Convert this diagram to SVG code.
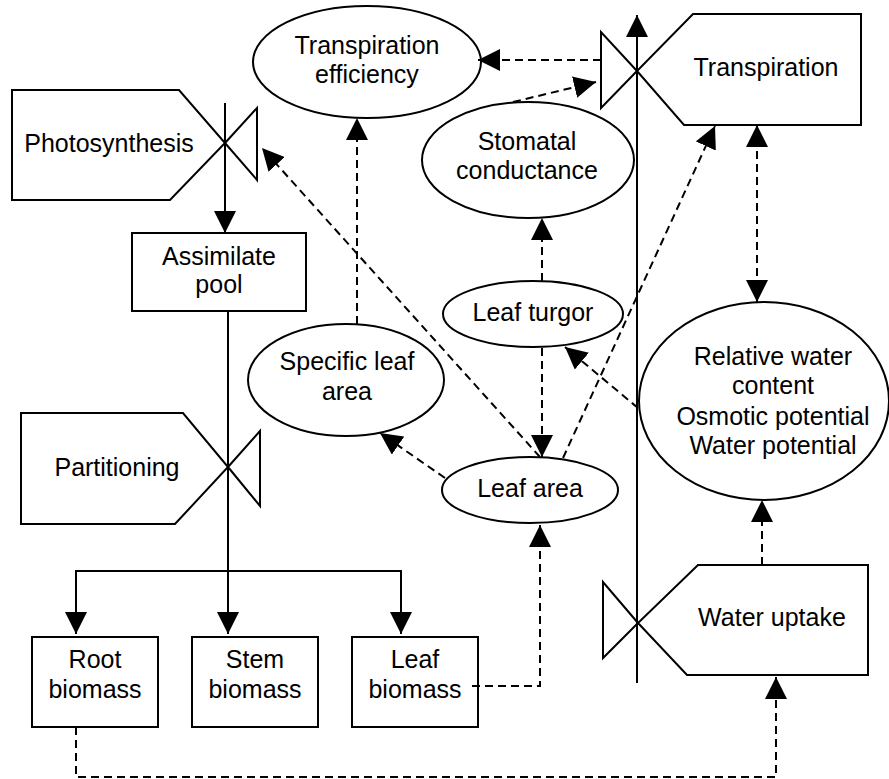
<svg xmlns="http://www.w3.org/2000/svg" width="889" height="779" viewBox="0 0 889 779">
<defs>
<marker id="ah" markerUnits="userSpaceOnUse" markerWidth="22" markerHeight="22" refX="22" refY="11" orient="auto-start-reverse" viewBox="0 0 22 22">
<path d="M0,0 L22,11 L0,22 z" fill="#000"/>
</marker>
<style>
.s{fill:none;stroke:#000;stroke-width:2}
.n{fill:#fff;stroke:#000;stroke-width:2}
.d{fill:none;stroke:#000;stroke-width:2;stroke-dasharray:8 5}
.a{marker-end:url(#ah)}
.b{marker-start:url(#ah);marker-end:url(#ah)}
text{font-family:"Liberation Sans",Arial,sans-serif;font-size:25px;fill:#000;text-anchor:middle}
</style>
</defs>
<rect width="889" height="779" fill="#fff"/>

<g id="photosynthesis">
<polygon class="n" points="12,90 179,90 225,143 170,200 12,200"/>
<polyline class="s" points="225,143 257,180 257,108 225,143"/>
<text x="109" y="152">Photosynthesis</text>
</g>

<g id="assimilate-pool">
<rect class="n" x="132" y="233" width="174" height="78"/>
<text x="219" y="265">Assimilate</text>
<text x="219" y="293">pool</text>
</g>

<g id="partitioning">
<polygon class="n" points="21,413 183,413 228,467 175,524 21,524"/>
<polyline class="s" points="228,467 260,506 260,431 228,467"/>
<text x="117" y="476">Partitioning</text>
</g>

<g id="root-biomass">
<rect class="n" x="32" y="637" width="126" height="90"/>
<text x="95" y="668">Root</text>
<text x="95" y="698">biomass</text>
</g>

<g id="stem-biomass">
<rect class="n" x="192" y="637" width="126" height="90"/>
<text x="255" y="668">Stem</text>
<text x="255" y="698">biomass</text>
</g>

<g id="leaf-biomass">
<rect class="n" x="352" y="637" width="126" height="90"/>
<text x="415" y="668">Leaf</text>
<text x="415" y="698">biomass</text>
</g>

<g id="transpiration-efficiency">
<ellipse class="n" cx="367" cy="62" rx="114" ry="56"/>
<text x="367" y="54">Transpiration</text>
<text x="367" y="83">efficiency</text>
</g>

<g id="stomatal-conductance">
<ellipse class="n" cx="528" cy="160" rx="106" ry="58"/>
<text x="527" y="150">Stomatal</text>
<text x="527" y="179">conductance</text>
</g>

<g id="transpiration">
<polygon class="n" points="693,14 861,14 861,125 684,125 637,71"/>
<polyline class="s" points="637,71 601,32 601,108 637,71"/>
<text x="766" y="76">Transpiration</text>
</g>

<g id="leaf-turgor">
<ellipse class="n" cx="533" cy="314" rx="90" ry="33"/>
<text x="533" y="321">Leaf turgor</text>
</g>

<g id="specific-leaf-area">
<ellipse class="n" cx="346" cy="380" rx="98" ry="56"/>
<text x="347" y="370">Specific leaf</text>
<text x="347" y="400">area</text>
</g>

<g id="leaf-area">
<ellipse class="n" cx="530" cy="490" rx="88" ry="33"/>
<text x="530" y="497">Leaf area</text>
</g>

<g id="water-status">
<ellipse class="n" cx="764" cy="401" rx="125" ry="99"/>
<text x="773" y="365">Relative water</text>
<text x="773" y="394">content</text>
<text x="773" y="425">Osmotic potential</text>
<text x="773" y="454">Water potential</text>
</g>

<g id="water-uptake">
<polygon class="n" points="698,565 868,565 868,675 687,675 638,623"/>
<polyline class="s" points="638,623 603,582 603,658 638,623"/>
<text x="772" y="626">Water uptake</text>
</g>

<g id="connectors">
<line class="s a" x1="225" y1="103" x2="225" y2="233"/>
<line class="s" x1="228" y1="311" x2="228" y2="571"/>
<line class="s a" x1="228" y1="571" x2="228" y2="634"/>
<polyline class="s a" points="228,571 76,571 76,634"/>
<polyline class="s a" points="228,571 401,571 401,634"/>
<line class="s a" x1="637" y1="683" x2="637" y2="15"/>
<line class="d a" x1="601" y1="60" x2="478" y2="60"/>
<line class="d a" x1="513" y1="102" x2="596" y2="82"/>
<line class="d b" x1="757" y1="125" x2="757" y2="302"/>
<line class="d a" x1="542" y1="281" x2="542" y2="218"/>
<line class="d a" x1="542" y1="348" x2="542" y2="457"/>
<line class="d a" x1="540" y1="457" x2="262" y2="148"/>
<line class="d a" x1="563" y1="458" x2="715" y2="126"/>
<line class="d a" x1="638" y1="408" x2="565" y2="347"/>
<line class="d a" x1="445" y1="478" x2="380" y2="433"/>
<line class="d a" x1="357" y1="324" x2="357" y2="118"/>
<polyline class="d a" points="472,686 540,686 540,525"/>
<line class="d a" x1="762" y1="565" x2="762" y2="500"/>
<polyline class="d a" points="76,727 76,777 776,777 776,677"/>
</g>
</svg>
